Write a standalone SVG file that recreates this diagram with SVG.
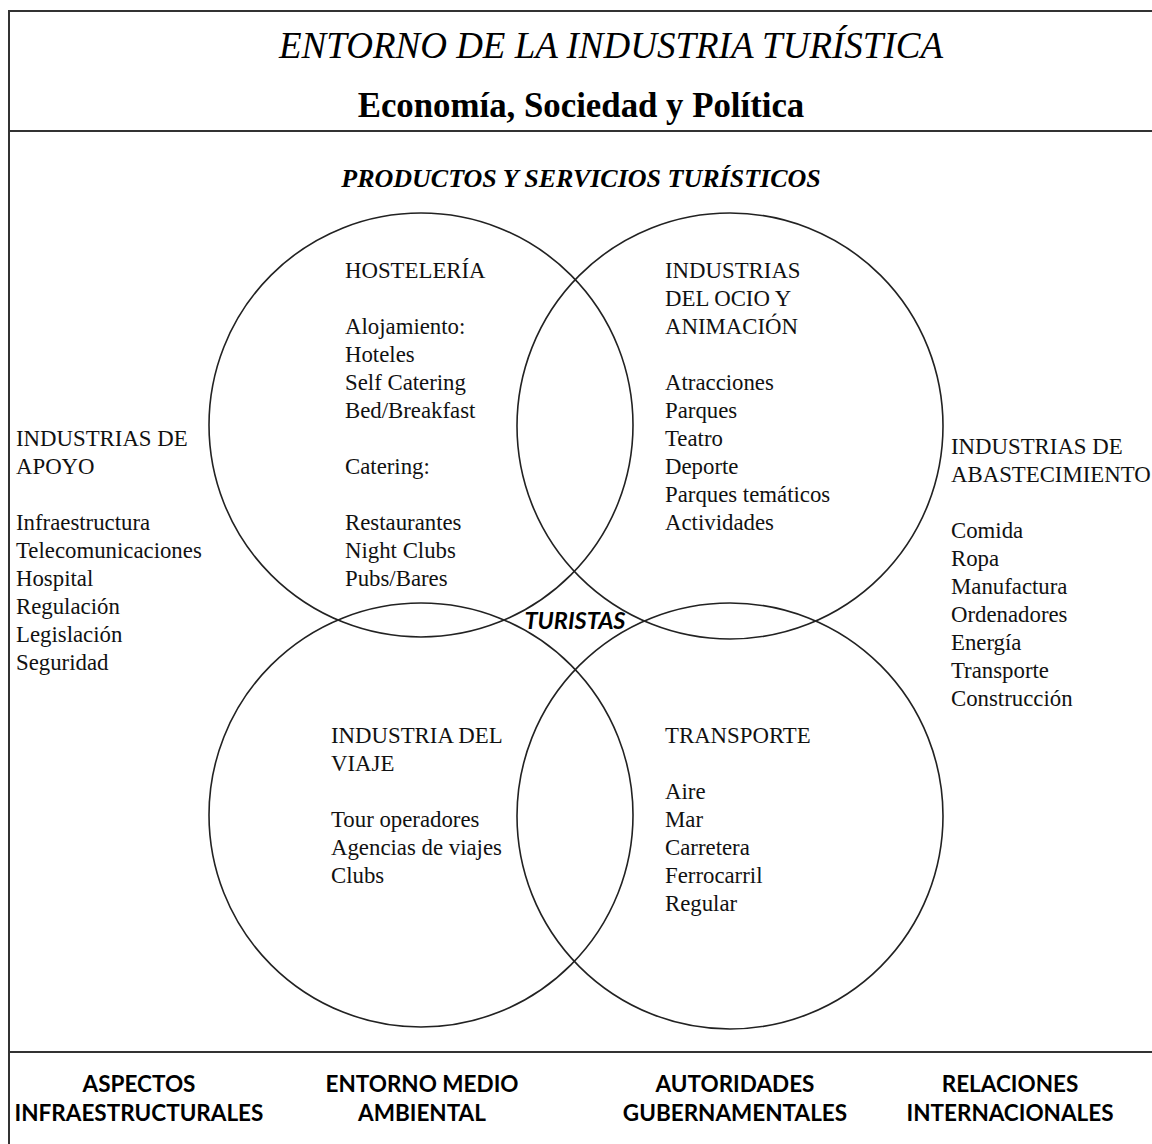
<svg xmlns="http://www.w3.org/2000/svg" width="1152" height="1144" viewBox="0 0 1152 1144">
<style>
.frame{stroke:#333;stroke-width:2;fill:none}
.circ{stroke:#222;stroke-width:1.6;fill:none}
.t{font-family:"Liberation Serif","Times New Roman",serif;font-size:22.8px;fill:#111}
.title{font-family:"Liberation Serif","Times New Roman",serif;font-size:37px;font-style:italic;fill:#000}
.sub{font-family:"Liberation Serif","Times New Roman",serif;font-size:34.8px;font-weight:bold;fill:#000}
.prod{font-family:"Liberation Serif","Times New Roman",serif;font-size:26px;font-weight:bold;font-style:italic;fill:#000}
.tur{font-family:Lato,"Liberation Sans",sans-serif;font-size:23.5px;font-weight:bold;font-style:italic;fill:#000}
.bot{font-family:Lato,"Liberation Sans",sans-serif;font-size:22.5px;font-weight:bold;fill:#000;text-anchor:middle}
</style>
<rect width="1152" height="1144" fill="#fff"/>
<g id="frame">
<path class="frame" d="M9 1144 V11 H1152 M9 131 H1152 M9 1052 H1152"/>
</g>
<g id="header">
<text class="title" x="611" y="58" text-anchor="middle">ENTORNO DE LA INDUSTRIA TURÍSTICA</text>
<text class="sub" x="581" y="117" text-anchor="middle">Economía, Sociedad y Política</text>
<text class="prod" x="581" y="187" text-anchor="middle">PRODUCTOS Y SERVICIOS TURÍSTICOS</text>
</g>
<g id="connectors"></g>
<g id="hosteleria">
<circle class="circ" cx="421" cy="425" r="212"/>
<text class="t" x="345" y="278">HOSTELERÍA</text>
<text class="t" x="345" y="334">Alojamiento:</text>
<text class="t" x="345" y="362">Hoteles</text>
<text class="t" x="345" y="390">Self Catering</text>
<text class="t" x="345" y="418">Bed/Breakfast</text>
<text class="t" x="345" y="474">Catering:</text>
<text class="t" x="345" y="530">Restaurantes</text>
<text class="t" x="345" y="558">Night Clubs</text>
<text class="t" x="345" y="586">Pubs/Bares</text>
</g>
<g id="ocio">
<circle class="circ" cx="730" cy="426" r="213"/>
<text class="t" x="665" y="278">INDUSTRIAS</text>
<text class="t" x="665" y="306">DEL OCIO Y</text>
<text class="t" x="665" y="334">ANIMACIÓN</text>
<text class="t" x="665" y="390">Atracciones</text>
<text class="t" x="665" y="418">Parques</text>
<text class="t" x="665" y="446">Teatro</text>
<text class="t" x="665" y="474">Deporte</text>
<text class="t" x="665" y="502">Parques temáticos</text>
<text class="t" x="665" y="530">Actividades</text>
</g>
<g id="viaje">
<circle class="circ" cx="421" cy="815" r="212"/>
<text class="t" x="331" y="743">INDUSTRIA DEL</text>
<text class="t" x="331" y="771">VIAJE</text>
<text class="t" x="331" y="827">Tour operadores</text>
<text class="t" x="331" y="855">Agencias de viajes</text>
<text class="t" x="331" y="883">Clubs</text>
</g>
<g id="transporte">
<circle class="circ" cx="730" cy="816" r="213"/>
<text class="t" x="665" y="743">TRANSPORTE</text>
<text class="t" x="665" y="799">Aire</text>
<text class="t" x="665" y="827">Mar</text>
<text class="t" x="665" y="855">Carretera</text>
<text class="t" x="665" y="883">Ferrocarril</text>
<text class="t" x="665" y="911">Regular</text>
</g>
<g id="turistas">
<text class="tur" x="575" y="629" text-anchor="middle">TURISTAS</text>
</g>
<g id="apoyo">
<text class="t" x="16" y="446">INDUSTRIAS DE</text>
<text class="t" x="16" y="474">APOYO</text>
<text class="t" x="16" y="530">Infraestructura</text>
<text class="t" x="16" y="558">Telecomunicaciones</text>
<text class="t" x="16" y="586">Hospital</text>
<text class="t" x="16" y="614">Regulación</text>
<text class="t" x="16" y="642">Legislación</text>
<text class="t" x="16" y="670">Seguridad</text>
</g>
<g id="abastecimiento">
<text class="t" x="951" y="454">INDUSTRIAS DE</text>
<text class="t" x="951" y="482">ABASTECIMIENTO</text>
<text class="t" x="951" y="538">Comida</text>
<text class="t" x="951" y="566">Ropa</text>
<text class="t" x="951" y="594">Manufactura</text>
<text class="t" x="951" y="622">Ordenadores</text>
<text class="t" x="951" y="650">Energía</text>
<text class="t" x="951" y="678">Transporte</text>
<text class="t" x="951" y="706">Construcción</text>
</g>
<g id="footer">
<text class="bot" x="139" y="1092">ASPECTOS</text>
<text class="bot" x="139" y="1121">INFRAESTRUCTURALES</text>
<text class="bot" x="422" y="1092">ENTORNO MEDIO</text>
<text class="bot" x="422" y="1121">AMBIENTAL</text>
<text class="bot" x="735" y="1092">AUTORIDADES</text>
<text class="bot" x="735" y="1121">GUBERNAMENTALES</text>
<text class="bot" x="1010" y="1092">RELACIONES</text>
<text class="bot" x="1010" y="1121">INTERNACIONALES</text>
</g>
</svg>
